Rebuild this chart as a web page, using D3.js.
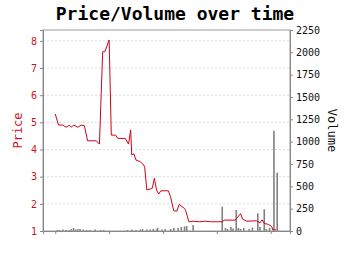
<!DOCTYPE html>
<html>
<head>
<meta charset="utf-8">
<script src="https://cdn.jsdelivr.net/npm/d3@7"></script>
<style>
  body { margin: 0; background: #fff; }
  text { font-family: "DejaVu Sans Mono", monospace; }
</style>
</head>
<body>
<div id="chart"></div>
<script>
// Price line: day offsets and prices
const priceDays = [0, 3, 7, 10, 13, 15, 17, 21, 24, 27, 30, 38, 41, 44, 46, 50, 52, 56, 58, 65,
    68, 70, 71, 73, 75, 79, 82, 83, 85, 90, 92, 94, 96, 98, 105, 107, 110, 113, 115, 120,
    121, 124, 128, 134, 139, 144, 150, 155, 157, 167, 172, 174, 178, 182, 187, 190, 192, 194, 198, 201,
    202, 205];
const prices = [5.31, 4.90, 4.90, 4.82, 4.89, 4.82, 4.90, 4.82, 4.90, 4.88, 4.32, 4.32, 4.20, 7.60, 7.60, 8.03, 4.53, 4.53, 4.41, 4.41,
    4.20, 4.72, 3.80, 3.84, 3.61, 3.55, 3.43, 3.35, 2.51, 2.57, 2.94, 2.51, 2.36, 2.48, 2.48, 2.26, 1.74, 1.74, 1.98, 1.83,
    1.76, 1.34, 1.36, 1.34, 1.36, 1.34, 1.34, 1.34, 1.40, 1.40, 1.64, 1.43, 1.36, 1.37, 1.37, 1.30, 1.41, 1.28, 1.24, 1.16,
    1.03, 1.05];

// Volume bars
const volumeDays = [2, 4, 7, 10, 13, 15, 17, 19, 21, 23, 26, 29, 32, 37, 42, 45, 67, 71, 75, 79,
    81, 85, 88, 91, 94, 95, 99, 102, 107, 110, 114, 117, 120, 122, 128, 155, 158, 160, 163, 165,
    168, 170, 172, 175, 180, 183, 188, 190, 194, 196, 199, 203, 206];
const volumes = [11, 11, 17, 11, 11, 22, 34, 17, 22, 22, 17, 11, 11, 17, 11, 11, 11, 17, 11, 17,
    22, 17, 17, 22, 17, 34, 17, 22, 22, 34, 34, 45, 50, 56, 67, 272, 34, 22, 45, 28,
    235, 34, 22, 34, 22, 39, 198, 45, 243, 22, 34, 1123, 653];

const dayTicks = [0, 50, 100, 150, 200];
const priceTicks = [1, 2, 3, 4, 5, 6, 7, 8];
const volumeTicks = [0, 250, 500, 750, 1000, 1250, 1500, 1750, 2000, 2250];

function createVisualization() {
    const svgWidth = 350;
    const svgHeight = 255;
    const margin = { top: 30, right: 60, bottom: 24, left: 43 };
    const width = svgWidth - margin.left - margin.right;
    const height = svgHeight - margin.top - margin.bottom;

    const svg = d3.select("#chart")
        .append("svg")
        .attr("width", svgWidth)
        .attr("height", svgHeight);

    svg.append("text")
        .attr("x", svgWidth / 2)
        .attr("y", 20)
        .attr("text-anchor", "middle")
        .style("font-size", "18px")
        .style("font-weight", "bold")
        .text("Price/Volume over time");

    const g = svg.append("g")
        .attr("transform", `translate(${margin.left},${margin.top})`);

    // Scales
    const xScale = d3.scaleLinear().domain([-11.4, 217.9]).range([0, width]);
    const yPrice = d3.scaleLinear().domain([1, 8.4]).range([height, 0]);
    const yVolume = d3.scaleLinear().domain([0, 2250]).range([height, 0]);

    // Grid lines
    g.append("g")
        .selectAll("line")
        .data(priceTicks.slice(1))
        .enter().append("line")
        .attr("x1", 0)
        .attr("x2", width)
        .attr("y1", d => yPrice(d))
        .attr("y2", d => yPrice(d))
        .attr("stroke", "#dcdcdc")
        .attr("stroke-dasharray", "2,2");

    // Volume bars
    const bars = volumeDays.map((d, i) => ({ day: d, volume: volumes[i] }));
    g.append("g")
        .selectAll("rect")
        .data(bars)
        .enter().append("rect")
        .attr("x", d => xScale(d.day) - 0.8)
        .attr("width", 1.6)
        .attr("y", d => yVolume(d.volume))
        .attr("height", d => height - yVolume(d.volume))
        .attr("fill", "#808080");

    // Price line
    const points = priceDays.map((d, i) => ({ day: d, price: prices[i] }));
    const line = d3.line()
        .x(d => xScale(d.day))
        .y(d => yPrice(d.price));

    g.append("path")
        .datum(points)
        .attr("d", line)
        .attr("fill", "none")
        .attr("stroke", "#d0021b")
        .attr("stroke-width", 1);

    // Frame
    g.append("rect")
        .attr("width", width)
        .attr("height", height)
        .attr("fill", "none")
        .attr("stroke", "#999");

    // Axes
    const xAxis = g.append("g")
        .attr("transform", `translate(0,${height})`)
        .call(d3.axisBottom(xScale).tickValues(dayTicks).tickSize(3).tickFormat(""));
    xAxis.select(".domain").attr("stroke", "#888");
    xAxis.selectAll(".tick line").attr("stroke", "#888");

    const leftAxis = g.append("g")
        .call(d3.axisLeft(yPrice).tickValues(priceTicks).tickSize(3).tickPadding(3));
    leftAxis.select(".domain").attr("stroke", "#888");
    leftAxis.selectAll(".tick line").attr("stroke", "#888");
    leftAxis.selectAll("text")
        .attr("fill", "#cc1122")
        .style("font-size", "10px")
        .style("font-family", "DejaVu Sans Mono, monospace");

    const rightAxis = g.append("g")
        .attr("transform", `translate(${width},0)`)
        .call(d3.axisRight(yVolume).tickValues(volumeTicks).tickSize(3).tickPadding(3)
            .tickFormat(d3.format("d")));
    rightAxis.select(".domain").attr("stroke", "#888");
    rightAxis.selectAll(".tick line").attr("stroke", "#888");
    rightAxis.selectAll("text")
        .attr("fill", "#111")
        .style("font-size", "10px")
        .style("font-family", "DejaVu Sans Mono, monospace");

    // Axis titles
    svg.append("text")
        .attr("transform", `translate(22,${margin.top + height / 2}) rotate(-90)`)
        .attr("text-anchor", "middle")
        .attr("fill", "#cc1122")
        .style("font-size", "12px")
        .text("Price");

    svg.append("text")
        .attr("transform", `translate(328,${margin.top + height / 2}) rotate(90)`)
        .attr("text-anchor", "middle")
        .attr("fill", "#111")
        .style("font-size", "12px")
        .text("Volume");
}

createVisualization();
</script>
</body>
</html>
